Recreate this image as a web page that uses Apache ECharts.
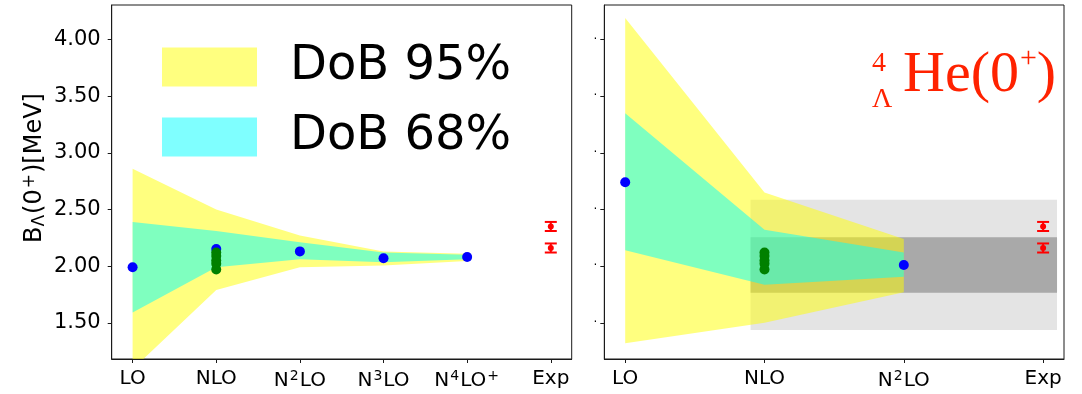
<!DOCTYPE html>
<html>
<head>
<meta charset="utf-8">
<script src="https://cdn.jsdelivr.net/npm/echarts@6/dist/echarts.min.js"></script>
<style>
  html, body { margin: 0; padding: 0; background: #ffffff; }
  #chart { width: 1082px; height: 394px; }
</style>
</head>
<body>
<div id="chart"></div>
<script>
// Lambda separation energy of the 0+ state of 4-Lambda-He, order by order
const leftOrders = ['LO', 'NLO', 'N2LO', 'N3LO', 'N4LO+', 'Exp'];
const rightOrders = ['LO', 'NLO', 'N2LO', 'Exp'];
const yTicks = [1.5, 2.0, 2.5, 3.0, 3.5, 4.0];

// left panel: central values and degree-of-belief bands
const leftCentral = [1.99, 2.15, 2.13, 2.07, 2.08];
const left95Upper = [2.86, 2.50, 2.27, 2.13, 2.11];
const left95Lower = [1.09, 1.79, 1.99, 2.005, 2.045];
const left68Upper = [2.39, 2.31, 2.21, 2.12, 2.10];
const left68Lower = [1.59, 1.99, 2.06, 2.035, 2.06];

// NLO variants (shown in both panels)
const nloVariants = [2.12, 2.09, 2.05, 2.02, 1.97];

// experimental values with uncertainties
const expValues = [2.35, 2.16];
const expErrors = [0.04, 0.04];

// right panel
const rightCentral = [2.74, null, 2.01];
const right95Upper = [4.19, 2.65, 2.24];
const right95Lower = [1.32, 1.50, 1.77];
const right68Upper = [3.35, 2.32, 2.12];
const right68Lower = [2.14, 1.835, 1.905];
const greyBandX = [0.9, 3.1];
const greyOuter = [1.435, 2.585];
const greyInner = [1.765, 2.255];

const FONT = 'DejaVu Sans';
const SERIF = 'Liberation Serif';
const RED = '#ff2200';
const YELLOW = 'rgba(255,255,0,0.5)';
const CYAN = 'rgba(0,255,255,0.5)';
const SPINE = '#1a1a1a';

function orderMarkup(label) {
  return label.replace(/^N(\d)/, 'N{s|$1}').replace(/\+$/, '{s|+}');
}

const xLabelRich = {
  s: { fontFamily: FONT, fontSize: 14, color: '#000', padding: [0, 1, 9, 1] }
};

function makeXAxis(gridIndex, orders) {
  const ticks = orders.map((_, i) => i);
  const margin = 0.05 * (orders.length - 1);
  return {
    type: 'value', gridIndex,
    min: -margin, max: orders.length - 1 + margin,
    axisLine: { show: true, onZero: false, lineStyle: { color: SPINE, width: 1 } },
    axisTick: { show: true, inside: false, length: 4, customValues: ticks,
                lineStyle: { color: SPINE, width: 1 } },
    axisLabel: { customValues: ticks, margin: 10, fontFamily: FONT, fontSize: 20, color: '#000',
                 formatter: v => orderMarkup(orders[Math.round(v)]), rich: xLabelRich },
    splitLine: { show: false }
  };
}

function makeYAxis(gridIndex, withLabels) {
  const axis = {
    type: 'value', gridIndex, min: 1.18, max: 4.305,
    axisLine: { show: true, onZero: false, lineStyle: { color: SPINE, width: 1 } },
    axisTick: { show: true, inside: false, length: 4, customValues: yTicks,
                lineStyle: { color: SPINE, width: 1 } },
    axisLabel: { customValues: yTicks, fontFamily: FONT, color: '#000' },
    splitLine: { show: false }
  };
  if (withLabels) {
    axis.axisLabel.fontSize = 21;
    axis.axisLabel.margin = 11;
    axis.axisLabel.formatter = v => v.toFixed(2);
    axis.name = '{b|B}{sub|Λ}{n|(0}{sup|+}{n|)[MeV]}';
    axis.nameLocation = 'middle';
    axis.nameRotate = 90;
    axis.nameGap = 63;
    axis.nameTextStyle = {
      rich: {
        b: { fontFamily: FONT, fontSize: 24, color: '#000', padding: [0, 0, 0, 28] },
        n: { fontFamily: FONT, fontSize: 24, color: '#000' },
        sub: { fontFamily: FONT, fontSize: 17, color: '#000', padding: [9, 1, 0, 0] },
        sup: { fontFamily: FONT, fontSize: 17, color: '#000', padding: [0, 1, 11, 1] }
      }
    };
  } else {
    axis.axisLabel.fontSize = 12;
    axis.axisLabel.margin = 7;
    axis.axisLabel.formatter = () => '·';
  }
  return axis;
}

// filled band between a lower and an upper curve
function bandSeries(name, idx, upper, lower, color) {
  return {
    type: 'custom', name, xAxisIndex: idx, yAxisIndex: idx, clip: true, z: 2,
    itemStyle: { color },
    silent: true,
    data: [[0, upper[0]]],
    renderItem(params, api) {
      const pts = [];
      upper.forEach((v, i) => pts.push(api.coord([i, v])));
      for (let i = lower.length - 1; i >= 0; i--) pts.push(api.coord([i, lower[i]]));
      return { type: 'polygon', shape: { points: pts }, style: { fill: color } };
    }
  };
}

// shaded rectangle spanning an x range and a y range
function rectSeries(idx, xr, yr, color) {
  return {
    type: 'custom', xAxisIndex: idx, yAxisIndex: idx, clip: true, z: 1, silent: true,
    data: [[xr[0], yr[0], xr[1], yr[1]]],
    renderItem(params, api) {
      const p0 = api.coord([api.value(0), api.value(3)]);
      const p1 = api.coord([api.value(2), api.value(1)]);
      return { type: 'rect', shape: { x: p0[0], y: p0[1], width: p1[0] - p0[0], height: p1[1] - p0[1] },
               style: { fill: color } };
    }
  };
}

function dotSeries(idx, data, color, size) {
  return {
    type: 'scatter', xAxisIndex: idx, yAxisIndex: idx, z: 3, silent: true,
    symbol: 'circle', symbolSize: size, itemStyle: { color, opacity: 1 },
    data
  };
}

function errorSeries(idx, xPos) {
  return {
    type: 'custom', xAxisIndex: idx, yAxisIndex: idx, z: 4, silent: true,
    data: expValues.map((v, i) => [xPos, v, expErrors[i]]),
    renderItem(params, api) {
      const x = api.value(0), y = api.value(1), e = api.value(2);
      const top = api.coord([x, y + e]);
      const bot = api.coord([x, y - e]);
      const cap = 6;
      const st = { stroke: 'red', lineWidth: 2 };
      return {
        type: 'group',
        children: [
          { type: 'line', shape: { x1: top[0], y1: top[1], x2: bot[0], y2: bot[1] }, style: st },
          { type: 'line', shape: { x1: top[0] - cap, y1: top[1], x2: top[0] + cap, y2: top[1] }, style: st },
          { type: 'line', shape: { x1: bot[0] - cap, y1: bot[1], x2: bot[0] + cap, y2: bot[1] }, style: st }
        ]
      };
    }
  };
}

const leftExp = leftOrders.length - 1;
const rightExp = rightOrders.length - 1;

const option = {
  animation: false,
  backgroundColor: '#ffffff',
  title: [
    {
      text: '{a|4}\n{a|Λ}', left: 867, top: 41,
      textStyle: { rich: { a: { fontFamily: SERIF, fontWeight: 'normal', fontSize: 28, lineHeight: 36, color: RED } } }
    },
    {
      text: '{b|He(0}{s|+}{b|)}', left: 898, top: 39,
      textStyle: { rich: {
        b: { fontFamily: SERIF, fontWeight: 'normal', fontSize: 58, lineHeight: 60, color: RED },
        s: { fontFamily: SERIF, fontWeight: 'normal', fontSize: 30, color: RED, padding: [0, 0, 34, 1] }
      } }
    }
  ],
  legend: {
    orient: 'vertical', left: 157, top: 38, itemWidth: 95, itemHeight: 39, itemGap: 22,
    selectedMode: false,
    textStyle: { fontFamily: FONT, fontSize: 48, color: '#000', padding: [0, 0, 0, 28] },
    data: [{ name: 'DoB 95%', icon: 'rect' }, { name: 'DoB 68%', icon: 'rect' }]
  },
  grid: [
    { left: 111.7, top: 5, width: 460, height: 354, show: true, borderColor: SPINE, borderWidth: 1,
      backgroundColor: 'transparent' },
    { left: 604.3, top: 5, width: 459.7, height: 354, show: true, borderColor: SPINE, borderWidth: 1,
      backgroundColor: 'transparent' }
  ],
  xAxis: [makeXAxis(0, leftOrders), makeXAxis(1, rightOrders)],
  yAxis: [makeYAxis(0, true), makeYAxis(1, false)],
  series: [
    // left panel
    bandSeries('DoB 95%', 0, left95Upper, left95Lower, YELLOW),
    bandSeries('DoB 68%', 0, left68Upper, left68Lower, CYAN),
    dotSeries(0, leftCentral.map((v, i) => [i, v]), '#0000ff', 10),
    dotSeries(0, nloVariants.map(v => [1, v]), '#008000', 10),
    errorSeries(0, leftExp),
    dotSeries(0, expValues.map(v => [leftExp, v]), '#ff0000', 6),
    // right panel
    rectSeries(1, greyBandX, greyOuter, '#e4e4e4'),
    rectSeries(1, greyBandX, greyInner, '#a9a9a9'),
    bandSeries('DoB 95%', 1, right95Upper, right95Lower, YELLOW),
    bandSeries('DoB 68%', 1, right68Upper, right68Lower, CYAN),
    dotSeries(1, rightCentral.map((v, i) => [i, v]).filter(d => d[1] !== null), '#0000ff', 10),
    dotSeries(1, nloVariants.map(v => [1, v]), '#008000', 10),
    errorSeries(1, rightExp),
    dotSeries(1, expValues.map(v => [rightExp, v]), '#ff0000', 6)
  ]
};

const chart = echarts.init(document.getElementById('chart'), null, { renderer: 'canvas' });
chart.setOption(option);
</script>
</body>
</html>
